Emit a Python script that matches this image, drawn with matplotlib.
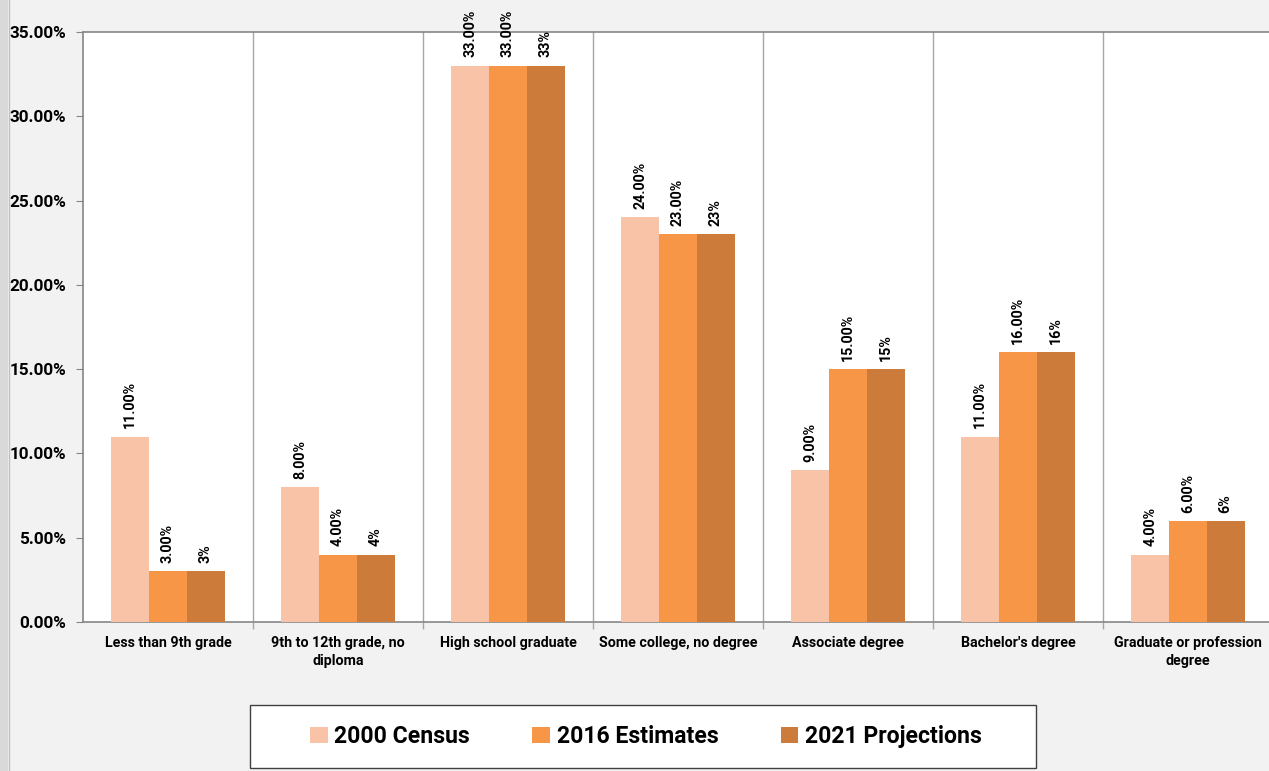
import matplotlib
matplotlib.use("Agg")
import matplotlib.pyplot as plt
from matplotlib.patches import Patch, Rectangle
from matplotlib.lines import Line2D
import numpy as np

categories = ["Less than 9th grade", "9th to 12th grade, no\ndiploma", "High school graduate",
              "Some college, no degree", "Associate degree", "Bachelor's degree",
              "Graduate or profession\ndegree"]
census_2000 = [11, 8, 33, 24, 9, 11, 4]
estimates_2016 = [3, 4, 33, 23, 15, 16, 6]
projections_2021 = [3, 4, 33, 23, 15, 16, 6]
series_names = ["2000 Census", "2016 Estimates", "2021 Projections"]
series_values = [census_2000, estimates_2016, projections_2021]
label_formats = ["{:.2f}%", "{:.2f}%", "{:.0f}%"]
colors = ["#F9C3A8", "#F79646", "#CD7B3A"]
yticks = [0, 5, 10, 15, 20, 25, 30, 35]

plt.rcParams['font.family'] = ['Roboto', 'DejaVu Sans']

W, H = 1269, 771
fig = plt.figure(figsize=(W / 100, H / 100), dpi=100, facecolor="#F2F2F2")

# left strip
fig.patches.append(Rectangle((0, 0), 8 / W, 1, transform=fig.transFigure,
                             facecolor="#D9D9D9", edgecolor="none", zorder=0))
fig.lines.append(Line2D([8.5 / W, 8.5 / W], [0, 1], transform=fig.transFigure,
                        color="#BFBFBF", lw=1))

ax = fig.add_axes([83 / W, 1 - 622 / H, (1273 - 83) / W, (622 - 32) / H])
ax.set_facecolor("white")

x = np.arange(len(categories))
w = 0.222
for j, (vals, col, fmt) in enumerate(zip(series_values, colors, label_formats)):
    pos = x + (j - 1) * w
    ax.bar(pos, vals, width=w, color=col, edgecolor="none", zorder=3)
    for p, v in zip(pos, vals):
        ax.annotate(fmt.format(v), (p, v), xytext=(0, 6), textcoords="offset points",
                    rotation=90, ha="center", va="bottom", fontsize=10.3,
                    fontweight="bold", color="#000000", annotation_clip=False)

ax.set_xlim(-0.5, len(categories) - 0.5)
ax.set_ylim(0, 35)
ax.set_yticks(yticks)
ax.set_yticklabels([f"{t:.2f}%" for t in yticks], fontsize=12.3, fontweight="bold")
ax.set_xticks(x)
ax.set_xticklabels(categories, fontsize=10.3, fontweight="bold", linespacing=1.35)
ax.tick_params(axis="x", which="major", length=0, pad=10)
ax.set_xticks(np.arange(len(categories)) + 0.5, minor=True)
ax.tick_params(axis="x", which="minor", length=5, color="#A6A6A6", width=1)
ax.tick_params(axis="y", length=5, color="#868686", pad=7)
ax.grid(True, axis="x", which="minor", color="#A6A6A6", lw=1, zorder=1)
for s in ["left", "bottom", "top"]:
    ax.spines[s].set_color("#868686")
    ax.spines[s].set_linewidth(1.2)
ax.spines["right"].set_visible(False)

# legend box
fig.patches.append(Rectangle((250 / W, 1 - 768 / H), (1036 - 250) / W, (768 - 705) / H,
                             transform=fig.transFigure, facecolor="white",
                             edgecolor="#404040", lw=1, zorder=1))
handles = [Patch(facecolor=c, edgecolor="none") for c in colors]
leg = fig.legend(handles, series_names, loc="center", ncol=3,
                 bbox_to_anchor=(646 / W, 1 - 736.5 / H), frameon=False,
                 prop={"size": 16.6, "weight": "bold"}, handlelength=0.75,
                 handleheight=0.75, handletextpad=0.3, columnspacing=2.7)
leg.set_zorder(5)

fig.savefig("out.png", dpi=100, facecolor=fig.get_facecolor())
